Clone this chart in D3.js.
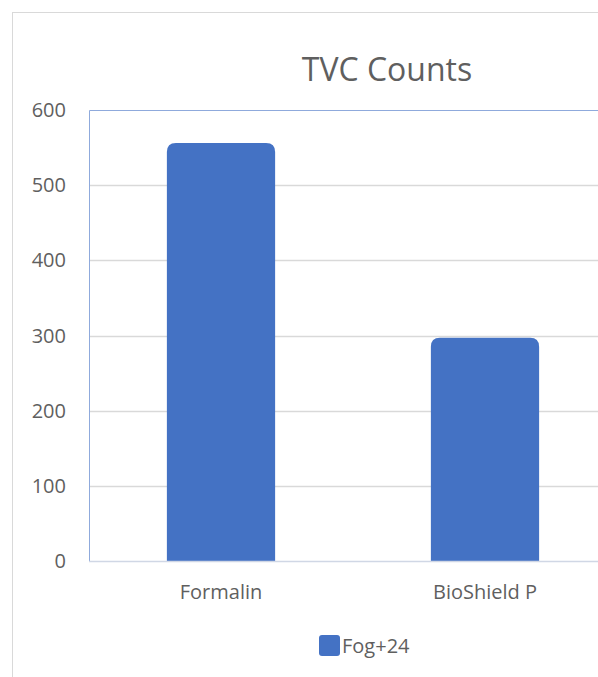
<!DOCTYPE html>
<html>
<head>
<meta charset="utf-8">
<script src="https://cdn.jsdelivr.net/npm/d3@7"></script>
<style>
  body { margin: 0; background: #fff; }
  svg text { font-family: "Open Sans", "Noto Sans", sans-serif; fill: #5f5f5f; }
</style>
</head>
<body>
<div id="chart"></div>
<script>
// data
var categories = ["Formalin", "BioShield P"];
var values = [556, 297];
var yTicks = [0, 100, 200, 300, 400, 500, 600];
var seriesName = "Fog+24";

var W = 598, H = 677;
var barColor = "#4472c4";

const svg = d3.select("#chart")
  .append("svg")
  .attr("width", W)
  .attr("height", H);

// outer chart border (cut off on the right like the screenshot)
svg.append("rect")
  .attr("x", 12.5).attr("y", 12.5)
  .attr("width", 700).attr("height", 700)
  .attr("fill", "none")
  .attr("stroke", "#d9d9d9")
  .attr("stroke-width", 1);

var plot = { left: 89, top: 110, right: 617, bottom: 561 };

var x = d3.scaleBand()
  .domain(categories)
  .range([plot.left, plot.right])
  .paddingInner(0.59)
  .paddingOuter(0.295);

var y = d3.scaleLinear()
  .domain([0, 600])
  .range([plot.bottom, plot.top]);

// gridlines
svg.append("g").selectAll("line")
  .data(yTicks.filter(d => d > 0 && d < 600))
  .join("line")
  .attr("x1", plot.left).attr("x2", W)
  .attr("y1", d => Math.round(y(d)) + 0.5)
  .attr("y2", d => Math.round(y(d)) + 0.5)
  .attr("stroke", "#d9d9d9")
  .attr("stroke-width", 1.5);

// plot area border (left & top, blue)
svg.append("path")
  .attr("d", "M" + (plot.left + 0.5) + "," + plot.bottom + "V" + (plot.top + 0.5) + "H" + W)
  .attr("fill", "none")
  .attr("stroke", "#8faadc")
  .attr("stroke-width", 1);

// y axis labels
svg.append("g").selectAll("text")
  .data(yTicks)
  .join("text")
  .attr("x", 66)
  .attr("y", d => y(d) + 7)
  .attr("text-anchor", "end")
  .attr("font-size", 20)
  .text(d => d);

// bars with rounded tops
var r = 9;
function barPath(d, i) {
  var x0 = x(categories[i]), x1 = x0 + x.bandwidth();
  var top = y(d), bot = y(0) + 1;
  return "M" + x0 + "," + bot +
    "V" + (top + r) +
    "Q" + x0 + "," + top + " " + (x0 + r) + "," + top +
    "H" + (x1 - r) +
    "Q" + x1 + "," + top + " " + x1 + "," + (top + r) +
    "V" + bot + "Z";
}
svg.append("g").selectAll("path")
  .data(values)
  .join("path")
  .attr("d", barPath)
  .attr("fill", barColor);

// baseline
svg.append("line")
  .attr("x1", plot.left).attr("x2", W)
  .attr("y1", plot.bottom + 0.5).attr("y2", plot.bottom + 0.5)
  .attr("stroke", "#d0d7e5")
  .attr("stroke-width", 1.5);

// category labels
svg.append("g").selectAll("text")
  .data(categories)
  .join("text")
  .attr("x", d => x(d) + x.bandwidth() / 2)
  .attr("y", 599)
  .attr("text-anchor", "middle")
  .attr("font-size", 20)
  .text(d => d);

// title
svg.append("text")
  .attr("x", 387)
  .attr("y", 81)
  .attr("text-anchor", "middle")
  .attr("font-size", 32)
  .text("TVC Counts");

// legend
svg.append("rect")
  .attr("x", 319).attr("y", 635)
  .attr("width", 21).attr("height", 21)
  .attr("rx", 3)
  .attr("fill", barColor);
svg.append("text")
  .attr("x", 342)
  .attr("y", 653)
  .attr("font-size", 20)
  .text(seriesName);
</script>
</body>
</html>
